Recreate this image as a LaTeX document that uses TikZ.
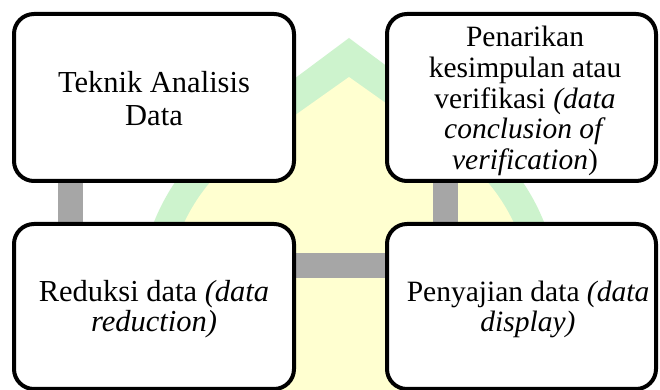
\documentclass[tikz,border=0pt]{standalone}
\usepackage{fontspec}
\setmainfont{Liberation Serif}
\definecolor{wmgreen}{RGB}{205,243,205}
\definecolor{wmyellow}{RGB}{255,255,208}
\definecolor{bargray}{RGB}{166,166,166}
\pgfdeclarelayer{wm}
\pgfdeclarelayer{bars}
\pgfsetlayers{wm,bars,main}
\tikzset{
  box/.style={draw=black, line width=4pt, rounded corners=20pt, fill=white, inner sep=0pt, outer sep=0pt},
  txt/.style={align=center, inner sep=0pt},
  conn/.style={draw=bargray, line width=25pt}
}
\begin{document}
\begin{tikzpicture}[x=1pt,y=1pt]
\useasboundingbox (0,0) rectangle (660,390);
\begin{pgfonlayer}{wm}
  \fill[white] (0,0) rectangle (660,390);
  \fill[wmgreen] (349,352) -- (223.5,258.4) arc[start angle=126.7, end angle=413.3, radius=210] -- cycle;
  \fill[wmyellow] (349,313) -- (243.8,238.5) arc[start angle=125.3, end angle=414.7, radius=182] -- cycle;
\end{pgfonlayer}

\node[box, minimum width=280pt, minimum height=167pt] (b1) at (154,292.5) {};
\node[box, minimum width=269pt, minimum height=167pt] (b2) at (521.5,292.5) {};
\node[box, minimum width=280pt, minimum height=165pt] (b3) at (154,83.5) {};
\node[box, minimum width=269pt, minimum height=165pt] (b4) at (521.5,83.5) {};

\node[txt, font=\fontsize{30.5}{33}\selectfont] (t1) at (154,291.75) {Teknik Analisis\\Data};
\node[txt, font=\fontsize{29.5}{30.75}\selectfont] (t2) at (525,289) {Penarikan\\kesimpulan atau\\verifikasi \textit{(data}\\\textit{conclusion of}\\\textit{verification})};
\node[txt, font=\fontsize{30.5}{30}\selectfont] (t3) at (154,81) {Reduksi data \textit{(data}\\\textit{reduction)}};
\node[txt, font=\fontsize{29.5}{30}\selectfont] (t4) at (528,80.5) {Penyajian data \textit{(data}\\\textit{display)}};

\begin{pgfonlayer}{bars}
  \draw[conn] ([xshift=56.5pt]b1.south west) -- ([xshift=56.5pt]b3.north west);
  \draw[conn] ([xshift=58pt]b2.south west) -- ([xshift=58pt]b4.north west);
  \draw[conn] ([yshift=-41.5pt]b3.north east) -- ([yshift=-41.5pt]b4.north west);
\end{pgfonlayer}
\end{tikzpicture}
\end{document}
